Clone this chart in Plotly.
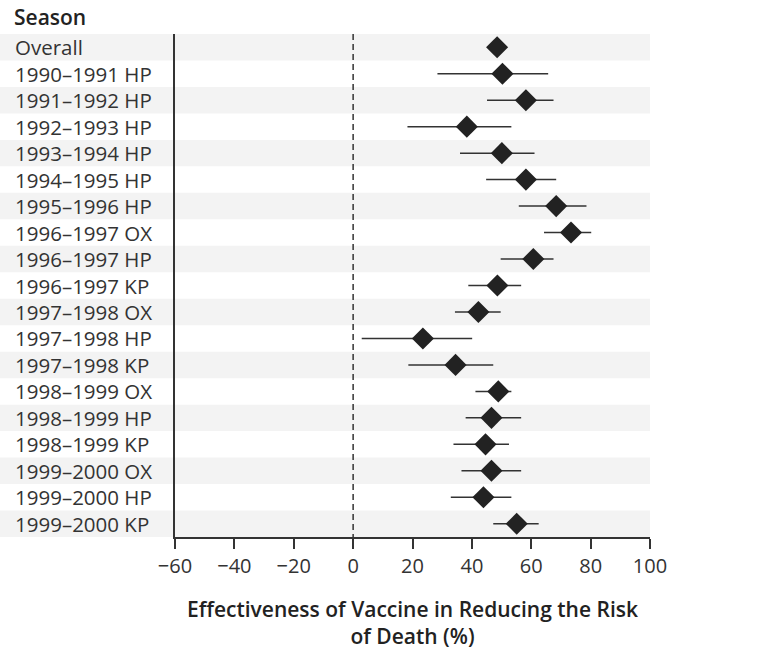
import plotly.graph_objects as go

labels = ["Overall", "1990–1991 HP", "1991–1992 HP", "1992–1993 HP", "1993–1994 HP",
          "1994–1995 HP", "1995–1996 HP", "1996–1997 OX", "1996–1997 HP", "1996–1997 KP",
          "1997–1998 OX", "1997–1998 HP", "1997–1998 KP", "1998–1999 OX", "1998–1999 HP",
          "1998–1999 KP", "1999–2000 OX", "1999–2000 HP", "1999–2000 KP"]
estimate = [48.5, 50.3, 58.2, 38.3, 50.1, 58.2, 68.4, 73.4, 60.7, 48.6,
            42.2, 23.5, 34.5, 48.9, 46.6, 44.6, 46.6, 43.9, 55.1]
ci_low = [46.5, 28.4, 45.1, 18.3, 36.0, 44.8, 55.8, 64.3, 49.7, 38.8,
          34.3, 2.9, 18.6, 41.2, 37.9, 33.8, 36.5, 32.9, 47.2]
ci_high = [50.5, 65.7, 67.5, 53.3, 61.1, 68.4, 78.6, 80.2, 67.5, 56.6,
           49.7, 40.1, 47.2, 53.3, 56.6, 52.5, 56.6, 53.3, 62.5]
x_ticks = [-60, -40, -20, 0, 20, 40, 60, 80, 100]
x_tick_text = ["−60", "−40", "−20", "0", "20", "40", "60", "80", "100"]

W, H = 769, 649
ML, MR, MT, MB = 175, 119, 34, 112
PW = W - ML - MR

rows = list(range(len(labels)))
FONT = "Open Sans"
TXT = "#333333"

fig = go.Figure()
fig.add_trace(go.Scatter(
    x=estimate, y=rows, mode="markers",
    marker=dict(symbol="diamond", size=17, color="#222222"),
    error_x=dict(type="data", symmetric=False,
                 array=[h - e for h, e in zip(ci_high, estimate)],
                 arrayminus=[e - l for e, l in zip(estimate, ci_low)],
                 color="#333333", thickness=1.5, width=0),
    showlegend=False, hoverinfo="skip",
))

shapes = []
for i in rows:
    if i % 2 == 0:
        shapes.append(dict(type="rect", xref="paper", yref="y",
                           x0=-ML / PW, x1=1, y0=i - 0.5, y1=i + 0.5,
                           fillcolor="#f3f3f3", line=dict(width=0), layer="below"))
shapes.append(dict(type="line", xref="x", yref="y", x0=0, x1=0,
                   y0=-0.5, y1=len(labels) - 0.5,
                   line=dict(color="#333333", width=1.5, dash="6px,4px")))

annotations = []
for i, lab in enumerate(labels):
    annotations.append(dict(text=lab, xref="paper", yref="y", x=(13 - ML) / PW, y=i,
                            xanchor="left", yanchor="middle", showarrow=False,
                            font=dict(family=FONT, size=20.5, color=TXT)))
annotations.append(dict(text="Season", xref="paper", yref="paper",
                        x=(12 - ML) / PW, y=1 + (MT - 17) / (H - MT - MB),
                        xanchor="left", yanchor="middle", showarrow=False,
                        font=dict(family=FONT, size=21, color="#222222", weight=600)))
annotations.append(dict(text="Effectiveness of Vaccine in Reducing the Risk<br>of Death (%)",
                        xref="paper", yref="paper", x=0.5,
                        y=-(622 - (H - MB)) / (H - MT - MB),
                        xanchor="center", yanchor="middle", showarrow=False,
                        font=dict(family=FONT, size=21, color="#222222", weight=600)))

fig.update_layout(
    width=W, height=H,
    margin=dict(l=ML, r=MR, t=MT, b=MB, pad=0),
    paper_bgcolor="white", plot_bgcolor="rgba(0,0,0,0)",
    shapes=shapes, annotations=annotations,
    xaxis=dict(range=[-60, 100], tickvals=x_ticks, ticktext=x_tick_text,
               showgrid=False, zeroline=False, showline=True, linecolor="#333333",
               linewidth=1.5, ticks="outside", ticklen=10, tickwidth=1.5,
               tickcolor="#333333", automargin=False,
               tickfont=dict(family=FONT, size=20, color=TXT)),
    yaxis=dict(range=[len(labels) - 0.5, -0.5], showgrid=False, zeroline=False,
               showticklabels=False, showline=True, linecolor="#333333", linewidth=1.5,
               ticks="", automargin=False),
)

fig.write_html("out.html")
